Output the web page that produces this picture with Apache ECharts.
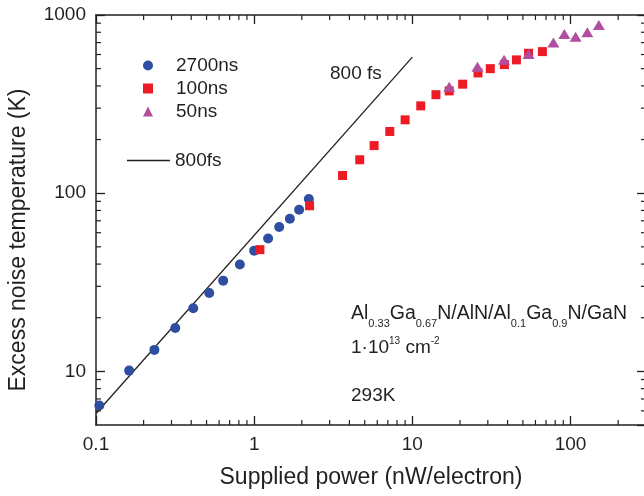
<!DOCTYPE html>
<html>
<head>
<meta charset="utf-8">
<script src="https://cdn.jsdelivr.net/npm/echarts@6/dist/echarts.min.js"></script>
<style>
  html, body { margin: 0; padding: 0; background: #fff; }
  #chart { width: 644px; height: 496px; }
</style>
</head>
<body>
<div id="chart"></div>
<script>
// data
const x2700 = [0.105, 0.162, 0.234, 0.317, 0.412, 0.52, 0.637, 0.812, 1.0, 1.225, 1.439, 1.681, 1.924, 2.216];
const y2700 = [6.43, 10.1, 13.2, 17.5, 22.6, 27.5, 32.3, 39.8, 47.6, 55.7, 64.6, 71.9, 80.7, 92.7];

const x100 = [1.087, 2.24, 3.62, 4.65, 5.73, 7.2, 9.0, 11.3, 14.1, 17.1, 20.8, 26.0, 31.1, 38.2, 45.5, 54.3, 66.4];
const y100 = [48.2, 85, 125.7, 154, 185, 222, 258, 309, 357, 375, 409, 473, 500, 527, 560, 610, 623];

const x50 = [17.1, 25.8, 38, 54.3, 77.9, 91.4, 107.7, 127.7, 151];
const y50 = [396, 513, 560, 605, 700, 782, 756, 800, 879];

const xFs = [0.1, 10];
const yFs = [5.8, 580];

const xRange = [0.1, 300];
const yRange = [5, 1000];
const xMinorTicks = [0.2, 0.3, 0.4, 0.5, 0.6, 0.7, 0.8, 0.9, 2, 3, 4, 5, 6, 7, 8, 9, 20, 30, 40, 50, 60, 70, 80, 90, 200];
const yMinorTicks = [6, 7, 8, 9, 20, 30, 40, 50, 60, 70, 80, 90, 200, 300, 400, 500, 600, 700, 800, 900];

const INK = "#231F20";
const FONT = "'Liberation Sans', Arial, Helvetica, sans-serif";

const zip = (xs, ys) => xs.map((x, i) => [x, ys[i]]);

function logAxis(range, extra) {
  return Object.assign({
    type: "log",
    logBase: 10,
    min: range[0],
    max: range[1],
    splitLine: { show: false },
    axisLine: { show: true, lineStyle: { color: INK, width: 1.5 } },
    axisTick: { show: true, inside: true, length: 9, lineStyle: { color: INK, width: 1.3 } },
    axisLabel: { show: false },
  }, extra);
}

// short ticks between decades, on both opposite sides
function minorTicks(isX) {
  return (params, api) => {
    const v = api.value(isX ? 0 : 1);
    const a = isX ? api.coord([v, yRange[0]]) : api.coord([xRange[0], v]);
    const b = isX ? api.coord([v, yRange[1]]) : api.coord([xRange[1], v]);
    const style = { stroke: INK, lineWidth: 1.2 };
    const len = 5;
    return {
      type: "group",
      children: isX ? [
        { type: "line", shape: { x1: a[0], y1: a[1], x2: a[0], y2: a[1] - len }, style },
        { type: "line", shape: { x1: b[0], y1: b[1], x2: b[0], y2: b[1] + len }, style },
      ] : [
        { type: "line", shape: { x1: a[0], y1: a[1], x2: a[0] + len, y2: a[1] }, style },
        { type: "line", shape: { x1: b[0], y1: b[1], x2: b[0] - len, y2: b[1] }, style },
      ],
    };
  };
}

const legendText = { fontSize: 19, color: INK, fontFamily: FONT, lineHeight: 19 };

const chart = echarts.init(document.getElementById("chart"));

chart.setOption({
  animation: false,
  backgroundColor: "#fff",
  textStyle: { fontFamily: FONT, color: INK },
  grid: { left: 96, top: 15, right: -2, bottom: 71, outerBoundsMode: "none", containLabel: false },
  xAxis: [
    logAxis(xRange, {
      position: "bottom",
      axisLabel: {
        show: true, margin: 10, fontSize: 19, color: INK, fontFamily: FONT,
        showMaxLabel: false,
        formatter: (v) => String(v),
      },
      name: "Supplied power (nW/electron)",
      nameLocation: "middle",
      nameGap: 41,
      nameTextStyle: { fontSize: 23, color: INK, fontFamily: FONT },
    }),
    logAxis(xRange, { position: "top" }),
  ],
  yAxis: [
    logAxis(yRange, {
      position: "left",
      axisLabel: {
        show: true, margin: 10, fontSize: 19, color: INK, fontFamily: FONT,
        showMinLabel: false,
        formatter: (v) => String(v),
      },
      name: "Excess noise temperature (K)",
      nameLocation: "middle",
      nameGap: 66,
      nameTextStyle: { fontSize: 23, color: INK, fontFamily: FONT, padding: [0, 40, 0, 0] },
    }),
    logAxis(yRange, { position: "right" }),
  ],
  legend: [
    {
      data: ["2700ns", "100ns", "50ns"],
      orient: "vertical",
      left: 138,
      top: 51,
      itemWidth: 10,
      itemHeight: 10,
      itemGap: 4,
      selectedMode: false,
      textStyle: Object.assign({ padding: [0, 0, 0, 18] }, legendText),
    },
    {
      data: [{ name: "800fs", icon: "rect" }],
      orient: "vertical",
      left: 122,
      top: 146,
      itemWidth: 43,
      itemHeight: 1.5,
      selectedMode: false,
      itemStyle: { color: INK },
      textStyle: legendText,
    },
  ],
  graphic: [
    {
      type: "text",
      style: { text: "800 fs", x: 330, y: 74, verticalAlign: "middle", fill: INK, fontSize: 19, fontFamily: FONT },
    },
    {
      type: "text",
      style: {
        x: 351, y: 314, verticalAlign: "middle", align: "left", fill: INK,
        text: "{n|Al}{s|0.33}{n|Ga}{s|0.67}{n|N/AlN/Al}{s|0.1}{n|Ga}{s|0.9}{n|N/GaN}",
        rich: {
          n: { fontSize: 19.5, fontFamily: FONT, lineHeight: 30 },
          s: { fontSize: 11, fontFamily: FONT, lineHeight: 11, verticalAlign: "bottom" },
        },
      },
    },
    {
      type: "text",
      style: {
        x: 351, y: 348, verticalAlign: "middle", align: "left", fill: INK,
        text: "{n|1·10}{p|13}{n| cm}{p|-2}",
        rich: {
          n: { fontSize: 19, fontFamily: FONT, lineHeight: 23 },
          p: { fontSize: 10, fontFamily: FONT, lineHeight: 10, verticalAlign: "top" },
        },
      },
    },
    {
      type: "text",
      style: { text: "293K", x: 351, y: 396, verticalAlign: "middle", fill: INK, fontSize: 19, fontFamily: FONT },
    },
  ],
  series: [
    {
      name: "800fs",
      type: "line",
      data: zip(xFs, yFs),
      symbol: "none",
      showSymbol: false,
      lineStyle: { color: INK, width: 1.3 },
      itemStyle: { color: INK },
      z: 2,
    },
    {
      name: "2700ns",
      type: "scatter",
      data: zip(x2700, y2700),
      symbol: "circle",
      symbolSize: 10,
      itemStyle: { color: "#2D4EA1", opacity: 1 },
      z: 3,
    },
    {
      name: "100ns",
      type: "scatter",
      data: zip(x100, y100),
      symbol: "rect",
      symbolSize: 9,
      itemStyle: { color: "#ED1C24", opacity: 1 },
      z: 4,
    },
    {
      name: "50ns",
      type: "scatter",
      data: zip(x50, y50),
      symbol: "triangle",
      symbolSize: [12, 10],
      itemStyle: { color: "#B24EA0", opacity: 1 },
      z: 5,
    },
    {
      type: "custom",
      silent: true,
      data: xMinorTicks.map((v) => [v, yRange[0]]),
      renderItem: minorTicks(true),
      z: 6,
    },
    {
      type: "custom",
      silent: true,
      data: yMinorTicks.map((v) => [xRange[0], v]),
      renderItem: minorTicks(false),
      z: 6,
    },
  ],
});
</script>
</body>
</html>
